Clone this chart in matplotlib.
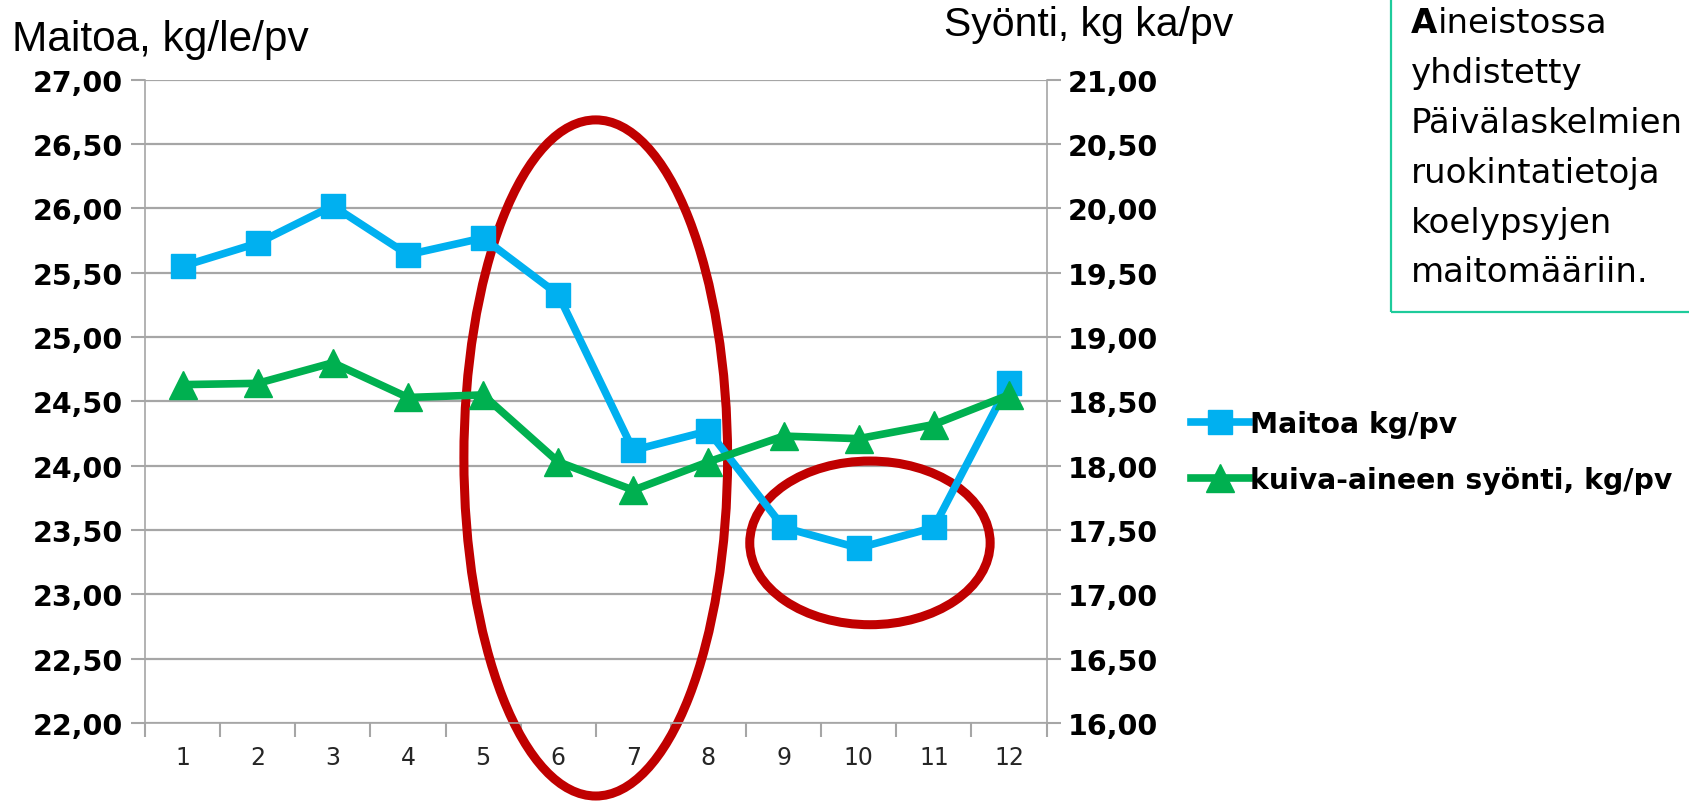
import numpy as np
import matplotlib
matplotlib.use("Agg")
import matplotlib.pyplot as plt
from matplotlib.patches import Ellipse, Rectangle

# data
months = [1, 2, 3, 4, 5, 6, 7, 8, 9, 10, 11, 12]
milk = [25.55, 25.73, 26.02, 25.64, 25.77, 25.33, 24.12, 24.27, 23.52, 23.36, 23.52, 24.64]
intake = [18.63, 18.64, 18.80, 18.53, 18.55, 18.03, 17.81, 18.03, 18.23, 18.21, 18.32, 18.55]
left_ticks = [22.0, 22.5, 23.0, 23.5, 24.0, 24.5, 25.0, 25.5, 26.0, 26.5, 27.0]
right_ticks = [16.0, 16.5, 17.0, 17.5, 18.0, 18.5, 19.0, 19.5, 20.0, 20.5, 21.0]
box_lines = ["yhdistetty", "Päivälaskelmien", "ruokintatietoja", "koelypsyjen", "maitomääriin."]

BLUE = "#00B0F0"
GREEN = "#00B050"
RED = "#C00000"
GRID = "#A6A6A6"

W, H = 1690, 803
fig = plt.figure(figsize=(W / 100, H / 100), dpi=100)

def fx(px):
    return px / W

def fy(py):
    return 1 - py / H

ax = fig.add_axes([fx(145), fy(724), fx(1046.5) - fx(145), fy(80.7) - fy(724)])
ax2 = ax.twinx()

def fmt(v):
    return f"{v:.2f}".replace(".", ",")

# left axis: milk
ax.plot(months, milk, color=BLUE, lw=5.5, marker="s", ms=17, zorder=3, label="Maitoa kg/pv")
ax.set_xlim(0.5, 12.5)
ax.set_ylim(22, 27)
ax.set_yticks(left_ticks)
ax.set_yticklabels([fmt(v) for v in left_ticks], fontsize=20.5, fontweight="bold", family="DejaVu Sans")
ax.set_xticks(months)
ax.set_xticklabels([str(m) for m in months], fontsize=17, color="#262626")
ax.set_xticks(np.arange(0.5, 13, 1.0), minor=True)
ax.tick_params(axis="x", which="major", length=0, pad=16)
ax.tick_params(axis="x", which="minor", length=10, width=1.5, color=GRID)
ax.tick_params(axis="y", length=10, width=1.5, color=GRID, pad=6)
ax.grid(axis="y", color=GRID, lw=1.6)
ax.set_axisbelow(True)
for s in ["top", "right"]:
    ax.spines[s].set_visible(False)
for s in ["left", "bottom"]:
    ax.spines[s].set_color(GRID)
    ax.spines[s].set_linewidth(1.2)

# right axis: dry matter intake
ax2.plot(months, intake, color=GREEN, lw=5.5, marker="^", ms=20, zorder=3,
         label="kuiva-aineen syönti, kg/pv")
ax2.set_ylim(16, 21)
ax2.set_yticks(right_ticks)
ax2.set_yticklabels([fmt(v) for v in right_ticks], fontsize=20.5, fontweight="bold", family="DejaVu Sans")
ax2.tick_params(axis="y", length=10, width=1.5, color=GRID, pad=5)
for s in ["top", "left", "bottom"]:
    ax2.spines[s].set_visible(False)
ax2.spines["right"].set_color(GRID)
ax2.spines["right"].set_linewidth(1.2)

# red highlight ellipses
ax.add_patch(Ellipse((6.50, 24.06), 3.51, 5.255, fill=False, ec=RED, lw=6.5, zorder=1.5, clip_on=False))
ax.add_patch(Ellipse((10.15, 23.40), 3.20, 1.272, fill=False, ec=RED, lw=6.5, zorder=1.5, clip_on=False))

# axis titles
fig.text(fx(12), fy(50.7), "Maitoa, kg/le/pv", fontsize=30.5, family="Liberation Sans", va="baseline")
fig.text(fx(944), fy(36), "Syönti, kg ka/pv", fontsize=29.5, family="Liberation Sans", va="baseline")

# legend
h1, l1 = ax.get_legend_handles_labels()
h2, l2 = ax2.get_legend_handles_labels()
fig.legend(h1 + h2, l1 + l2, loc="upper left", bbox_to_anchor=(fx(1191), fy(411)),
           bbox_transform=fig.transFigure, frameon=False, borderpad=0, borderaxespad=0,
           handlelength=2.05, handletextpad=0.05, labelspacing=1.0,
           prop={"family": "DejaVu Sans", "weight": "bold", "size": 20.3})

# text box, open at the top and right edges
fig.patches.append(Rectangle((fx(1391), fy(313)), 1, 1, transform=fig.transFigure,
                             fill=False, ec="#1ECB9B", lw=1.6, figure=fig))
BOX_FS = 24.5
ta = fig.text(fx(1411), fy(33.3), "A", fontsize=BOX_FS, fontweight="bold", va="baseline")
ax.annotate("ineistossa", xy=(1, 0), xycoords=ta, fontsize=BOX_FS, va="bottom", ha="left",
            annotation_clip=False)
for i, line in enumerate(box_lines):
    fig.text(fx(1411), fy(33.3 + 49.8 * (i + 1)), line, fontsize=BOX_FS, va="baseline")

fig.savefig("out.png", dpi=100)
